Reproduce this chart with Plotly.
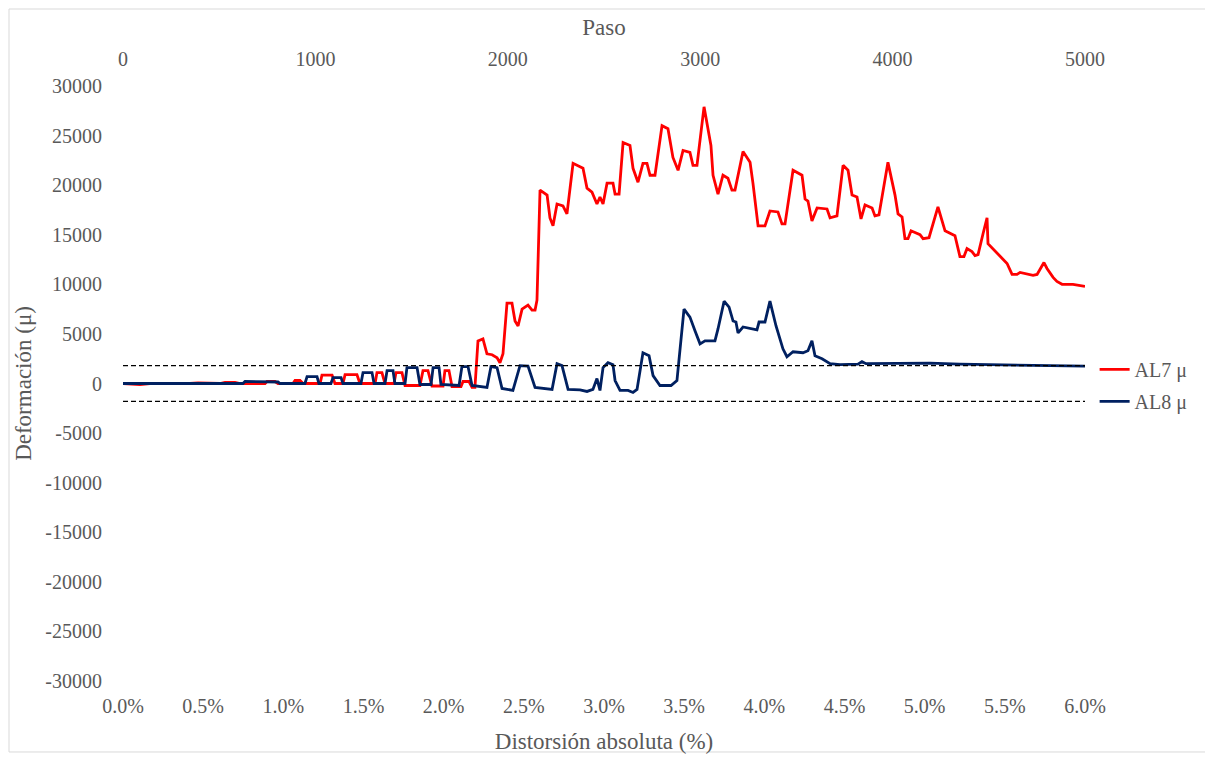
import plotly.graph_objects as go

# Distorsión absoluta (%) and deformación (µ) for AL7
al7_x = [0.000, 0.106, 0.168, 0.356, 0.418, 0.468, 0.605, 0.636, 0.699, 0.730, 0.886, 0.898, 0.948, 0.967,
         1.060, 1.073, 1.104, 1.123, 1.229, 1.241, 1.304, 1.322, 1.372, 1.385, 1.459, 1.478, 1.572, 1.584,
         1.615, 1.634, 1.690, 1.703, 1.740, 1.759, 1.852, 1.871, 1.902, 1.927, 1.996, 2.008, 2.033, 2.052,
         2.064, 2.108, 2.121, 2.158, 2.177, 2.195, 2.214, 2.245, 2.270, 2.302, 2.333, 2.351, 2.370, 2.395,
         2.426, 2.445, 2.464, 2.489, 2.526, 2.551, 2.570, 2.582, 2.601, 2.645, 2.663, 2.682, 2.707, 2.744,
         2.769, 2.807, 2.869, 2.894, 2.925, 2.956, 2.975, 2.994, 3.019, 3.056, 3.069, 3.094, 3.119, 3.162,
         3.181, 3.212, 3.243, 3.268, 3.287, 3.318, 3.362, 3.399, 3.430, 3.462, 3.493, 3.536, 3.555, 3.580,
         3.624, 3.667, 3.680, 3.711, 3.742, 3.773, 3.798, 3.817, 3.867, 3.911, 3.929, 3.961, 4.004, 4.035,
         4.085, 4.110, 4.129, 4.179, 4.235, 4.254, 4.272, 4.297, 4.329, 4.391, 4.410, 4.453, 4.491, 4.522,
         4.547, 4.578, 4.603, 4.628, 4.672, 4.690, 4.715, 4.771, 4.815, 4.834, 4.859, 4.877, 4.896, 4.915,
         4.971, 4.990, 5.027, 5.083, 5.127, 5.189, 5.220, 5.245, 5.264, 5.295, 5.314, 5.333, 5.364, 5.389,
         5.395, 5.451, 5.482, 5.514, 5.545, 5.576, 5.595, 5.676, 5.701, 5.744, 5.763, 5.801, 5.825, 5.857,
         5.925, 6.000]
al7_y = [0, -100, 0, -50, 0, 50, 0, 100, 100, 0, 0, 200, 200, 0,
         0, 300, 300, 0, 0, 850, 850, 0, 0, 900, 900, 0, 0, 1100,
         1100, 0, 0, 1100, 1100, -200, -200, 1300, 1300, -250, -250, 1300, 1300, -300,
         -300, -300, 200, 200, -400, -400, 4300, 4500, 3000, 2900, 2600, 2100, 3000, 8100,
         8100, 6300, 5800, 7500, 7900, 7400, 7400, 8400, 19500, 19000, 16700, 15900, 18100, 17900,
         17100, 22200, 21700, 19700, 19300, 18100, 18800, 18100, 20200, 20200, 19100, 19100, 24300, 24000,
         21700, 20300, 22200, 22200, 21000, 21000, 26000, 25700, 22800, 21500, 23500, 23300, 22000, 22000,
         27900, 24000, 21000, 19100, 21000, 20700, 19500, 19500, 23400, 22300, 20200, 15900, 15900, 17400,
         17300, 16100, 16100, 21500, 21000, 18600, 18400, 16400, 17700, 17600, 16700, 16900, 22000, 21500,
         19000, 18800, 16600, 18000, 17700, 16900, 17000, 22300, 19000, 17100, 16800, 14600, 14600, 15400,
         15000, 14600, 14700, 17800, 15400, 14900, 12800, 12800, 13600, 13300, 12900, 13000, 15100, 16700,
         14100, 13200, 12600, 12100, 11000, 11000, 11200, 10900, 11000, 12200, 11600, 10700, 10300, 10000,
         10000, 9800]

# AL8
al8_x = [0.000, 0.231, 0.293, 0.356, 0.748, 0.761, 0.967, 0.979, 1.123, 1.135, 1.148, 1.210, 1.222,
         1.297, 1.310, 1.360, 1.372, 1.484, 1.497, 1.553, 1.566, 1.634, 1.647, 1.684, 1.696, 1.759, 1.771,
         1.834, 1.852, 1.921, 1.934, 1.971, 1.983, 2.096, 2.114, 2.152, 2.177, 2.270, 2.295, 2.333, 2.364,
         2.432, 2.476, 2.526, 2.570, 2.645, 2.676, 2.707, 2.738, 2.776, 2.850, 2.894, 2.931, 2.956, 2.975,
         2.994, 3.025, 3.056, 3.069, 3.100, 3.150, 3.181, 3.206, 3.243, 3.281, 3.306, 3.349, 3.418, 3.455,
         3.499, 3.536, 3.568, 3.599, 3.630, 3.692, 3.711, 3.749, 3.780, 3.805, 3.823, 3.836, 3.867, 3.923,
         3.954, 3.967, 4.004, 4.035, 4.073, 4.116, 4.141, 4.179, 4.241, 4.272, 4.297, 4.316, 4.360, 4.410,
         4.472, 4.584, 4.609, 4.634, 4.846, 5.033, 5.220, 5.470, 5.719, 6.000]
al8_y = [0, 0, -50, 0, 0, 200, 150, 0, 0, 0, 700, 700, 0,
         0, 600, 600, 0, 0, 1100, 1100, 0, 0, 1300, 1300, 0, 0, 1600,
         1600, -100, -100, 1600, 1600, -100, -200, 1700, 1700, -200, -400, 1700, 1600, -500,
         -700, 1800, 1750, -400, -500, -600, 2000, 1800, -600, -650, -800, -600, 500, -700,
         1600, 2100, 1900, 300, -700, -700, -900, -600, 3100, 2800, 800, -200, -200, 300,
         7500, 6700, 5300, 4000, 4300, 4300, 5500, 8300, 7700, 6300, 6200, 5100, 5700, 5500,
         5400, 6200, 6200, 8300, 5800, 3500, 2700, 3200, 3100, 3300, 4300, 2800, 2500, 2000,
         1900, 1950, 2200, 2000, 2000, 2050, 1950, 1900, 1850, 1750]

x_ticks = [0, 0.5, 1, 1.5, 2, 2.5, 3, 3.5, 4, 4.5, 5, 5.5, 6]
x_labels = ["0.0%", "0.5%", "1.0%", "1.5%", "2.0%", "2.5%", "3.0%", "3.5%", "4.0%", "4.5%",
            "5.0%", "5.5%", "6.0%"]
y_ticks = [30000, 25000, 20000, 15000, 10000, 5000, 0, -5000, -10000, -15000, -20000, -25000, -30000]
y_labels = ["30000", "25000", "20000", "15000", "10000", "5000", "0", "-5000", "-10000", "-15000",
            "-20000", "-25000", "-30000"]
paso_range = [0, 5000]
limit_pos = 1800
limit_neg = -1800

FONT = "Times New Roman, Liberation Serif, DejaVu Serif, serif"
GREY = "#595959"

fig = go.Figure()
fig.add_trace(go.Scatter(x=paso_range, y=[limit_pos, limit_pos], xaxis="x2", mode="lines",
                         line=dict(color="black", width=1.3, dash="5px,3px"), showlegend=False,
                         hoverinfo="skip"))
fig.add_trace(go.Scatter(x=paso_range, y=[limit_neg, limit_neg], xaxis="x2", mode="lines",
                         line=dict(color="black", width=1.3, dash="5px,3px"), showlegend=False,
                         hoverinfo="skip"))
fig.add_trace(go.Scatter(x=al7_x, y=al7_y, mode="lines", name="AL7 μ", legendgroup="a",
                         line=dict(color="#FF0000", width=2.8)))
fig.add_trace(go.Scatter(x=al8_x, y=al8_y, mode="lines", name="AL8 μ", legendgroup="b",
                         line=dict(color="#002060", width=2.8)))

fig.update_layout(
    width=1205, height=751,
    margin=dict(l=115, r=128, t=78, b=78),
    paper_bgcolor="white", plot_bgcolor="white",
    font=dict(family=FONT, color=GREY, size=20),
    xaxis=dict(range=[0, 6], tickvals=x_ticks, ticktext=x_labels, automargin=False,
               showgrid=False, zeroline=False, showline=False,
               ticks="", ticklabelstandoff=11, tickfont=dict(size=20, color=GREY, family=FONT),
               title=dict(text="Distorsión absoluta (%)", font=dict(size=23, color=GREY, family=FONT),
                          standoff=16)),
    xaxis2=dict(range=paso_range, overlaying="x", side="top", dtick=1000, tickformat="d",
                automargin=False, showgrid=False, zeroline=False, showline=False, ticks="",
                ticklabelstandoff=15, tickfont=dict(size=20, color=GREY, family=FONT),
                title=dict(text="Paso", font=dict(size=23, color=GREY, family=FONT), standoff=5)),
    yaxis=dict(range=[-30000, 30000], tickvals=y_ticks, ticktext=y_labels, automargin=False,
               showgrid=False, zeroline=False, showline=False, ticks="", ticklabelstandoff=20,
               tickfont=dict(size=20, color=GREY, family=FONT),
               title=dict(text="Deformación (μ)", font=dict(size=23, color=GREY, family=FONT),
                          standoff=7)),
    legend=dict(x=1.010, y=0.5565, xanchor="left", yanchor="top", tracegroupgap=3,
                font=dict(size=20, color=GREY, family=FONT), bgcolor="rgba(0,0,0,0)"),
    shapes=[dict(type="rect", xref="paper", yref="paper", x0=-0.1185, x1=1.1268, y0=-0.1193, y1=1.1294,
                 line=dict(color="#D9D9D9", width=1), fillcolor="rgba(0,0,0,0)", layer="below")],
)

fig.write_html("out.html")
